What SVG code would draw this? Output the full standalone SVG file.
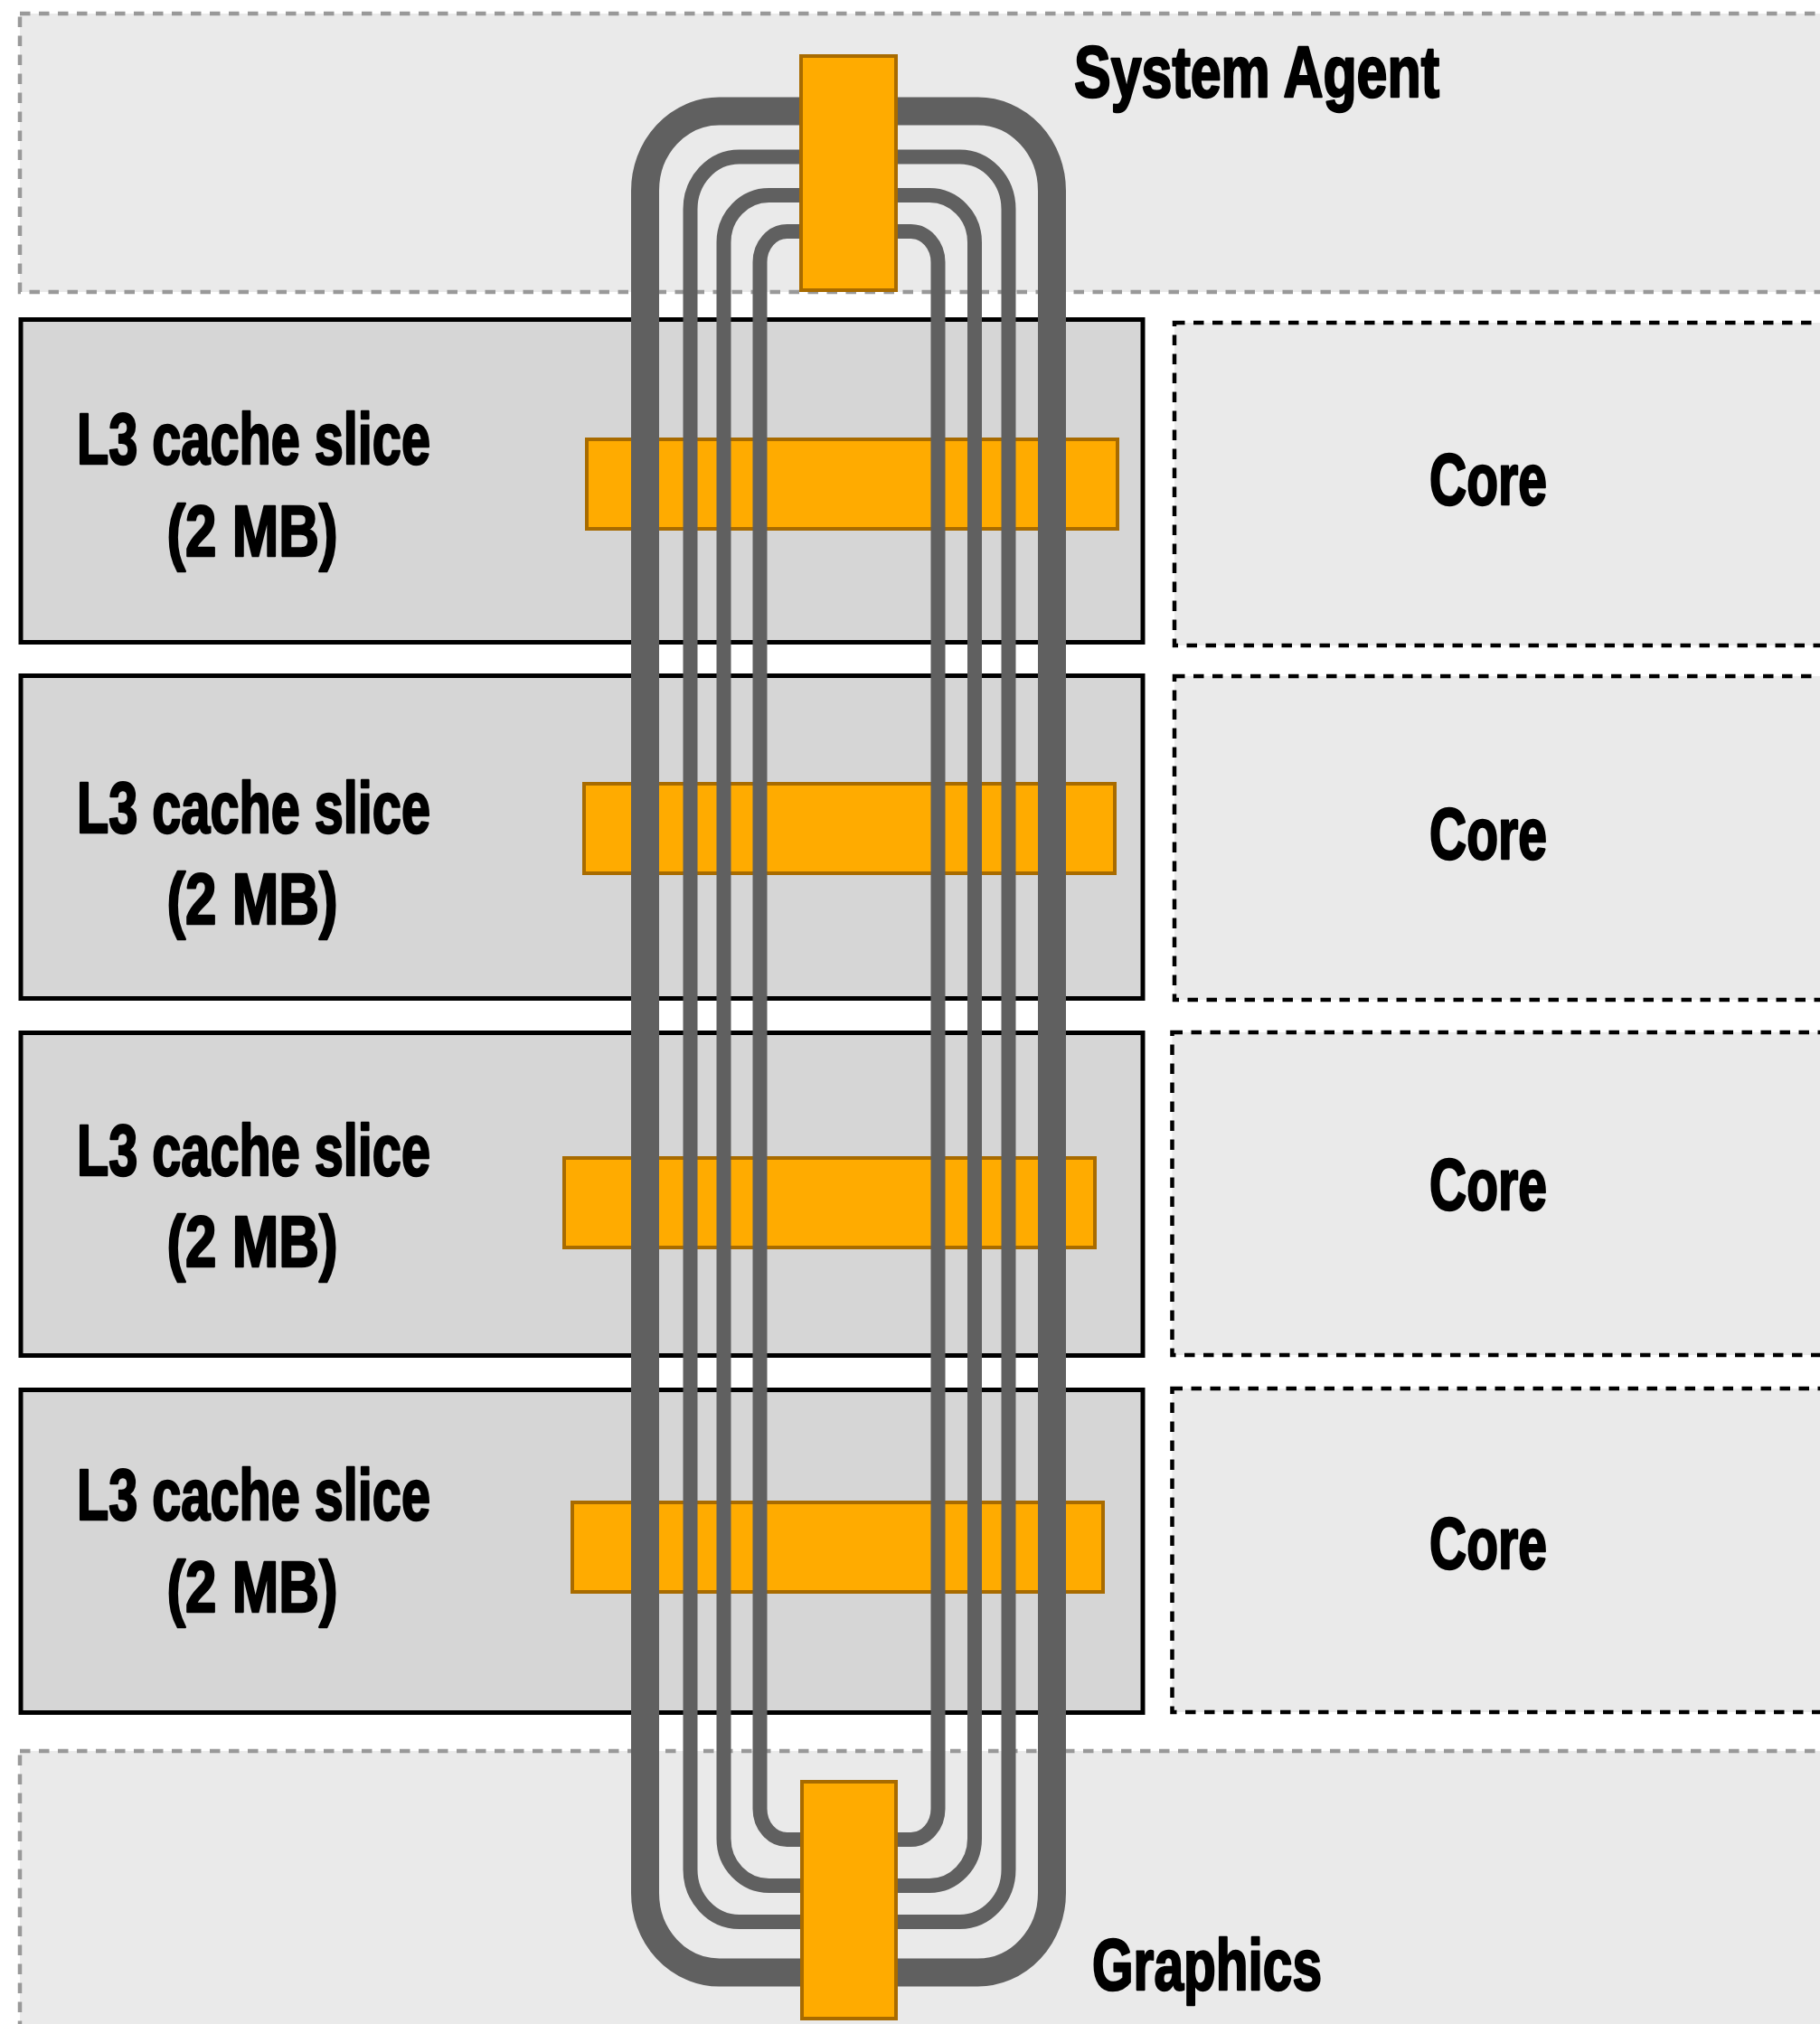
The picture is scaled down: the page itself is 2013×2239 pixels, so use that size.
<svg xmlns="http://www.w3.org/2000/svg" width="2013" height="2239" viewBox="0 0 2013 2239">
<style>
.region{fill:#EAEAEA;stroke:#999999;stroke-width:4.5;stroke-dasharray:11.5 9.5}
.l3{fill:#D6D6D6;stroke:#000000;stroke-width:5}
.core{fill:#EAEAEA;stroke:#000000;stroke-width:4.5;stroke-dasharray:11.5 9.5}
.stop{fill:#FFAB00;stroke:#A86B00;stroke-width:4}
.ring{fill:none;stroke:#606060}
.lbl{font-family:"Liberation Sans Narrow","Liberation Sans",Arial,sans-serif;font-weight:bold;font-size:80px;fill:#000000;stroke:#000000;stroke-width:2.5;stroke-linejoin:round}
</style>
<rect width="2013" height="2239" fill="#FFFFFF"/>
<g id="system-agent">
<rect class="region" x="22" y="15" width="2020" height="308"/>
<text class="lbl" x="1188" y="107" textLength="404" lengthAdjust="spacingAndGlyphs">System Agent</text>
</g>
<g id="graphics">
<rect class="region" x="22" y="1937" width="2020" height="340"/>
<text class="lbl" x="1208" y="2201" textLength="254" lengthAdjust="spacingAndGlyphs">Graphics</text>
</g>
<g id="l3-1">
<rect class="l3" x="23" y="353.5" width="1241" height="357"/>
<text class="lbl" x="280.5" y="513" text-anchor="middle" textLength="391" lengthAdjust="spacingAndGlyphs">L3 cache slice</text>
<text class="lbl" x="279" y="615" text-anchor="middle" textLength="189" lengthAdjust="spacingAndGlyphs">(2 MB)</text>
</g>
<g id="l3-2">
<rect class="l3" x="23" y="747.5" width="1241" height="357"/>
<text class="lbl" x="280.5" y="921" text-anchor="middle" textLength="391" lengthAdjust="spacingAndGlyphs">L3 cache slice</text>
<text class="lbl" x="279" y="1022" text-anchor="middle" textLength="189" lengthAdjust="spacingAndGlyphs">(2 MB)</text>
</g>
<g id="l3-3">
<rect class="l3" x="23" y="1142.5" width="1241" height="357"/>
<text class="lbl" x="280.5" y="1300" text-anchor="middle" textLength="391" lengthAdjust="spacingAndGlyphs">L3 cache slice</text>
<text class="lbl" x="279" y="1401" text-anchor="middle" textLength="189" lengthAdjust="spacingAndGlyphs">(2 MB)</text>
</g>
<g id="l3-4">
<rect class="l3" x="23" y="1537.5" width="1241" height="357"/>
<text class="lbl" x="280.5" y="1681" text-anchor="middle" textLength="391" lengthAdjust="spacingAndGlyphs">L3 cache slice</text>
<text class="lbl" x="279" y="1783" text-anchor="middle" textLength="189" lengthAdjust="spacingAndGlyphs">(2 MB)</text>
</g>
<g id="core-1">
<rect class="core" x="1299" y="357" width="800" height="357"/>
<text class="lbl" x="1646" y="558" text-anchor="middle" textLength="130" lengthAdjust="spacingAndGlyphs">Core</text>
</g>
<g id="core-2">
<rect class="core" x="1299" y="748" width="800" height="358"/>
<text class="lbl" x="1646" y="950" text-anchor="middle" textLength="130" lengthAdjust="spacingAndGlyphs">Core</text>
</g>
<g id="core-3">
<rect class="core" x="1296.5" y="1142" width="800" height="357"/>
<text class="lbl" x="1646" y="1338" text-anchor="middle" textLength="130" lengthAdjust="spacingAndGlyphs">Core</text>
</g>
<g id="core-4">
<rect class="core" x="1296.5" y="1536" width="800" height="358"/>
<text class="lbl" x="1646" y="1735" text-anchor="middle" textLength="130" lengthAdjust="spacingAndGlyphs">Core</text>
</g>
<g id="ring-stops">
<rect id="stop-l3-1" class="stop" x="649" y="486" width="587" height="99"/>
<rect id="stop-l3-2" class="stop" x="646" y="867" width="587" height="99"/>
<rect id="stop-l3-3" class="stop" x="624" y="1281" width="587" height="99"/>
<rect id="stop-l3-4" class="stop" x="633" y="1662" width="587" height="99"/>
</g>
<g id="connectors">
<rect class="ring" x="713.5" y="123" width="450" height="2059" rx="82" ry="88" stroke-width="31"/>
<rect class="ring" x="763.5" y="173.5" width="352" height="1952.5" rx="54" ry="58" stroke-width="16"/>
<rect class="ring" x="800.5" y="216" width="277.5" height="1870" rx="50" ry="52" stroke-width="16"/>
<rect class="ring" x="840.5" y="256" width="197" height="1779" rx="30" ry="34" stroke-width="16"/>
</g>
<g id="stop-system-agent">
<rect class="stop" x="886" y="62" width="105" height="259"/>
</g>
<g id="stop-graphics">
<rect class="stop" x="887" y="1971" width="104" height="262"/>
</g>
</svg>
